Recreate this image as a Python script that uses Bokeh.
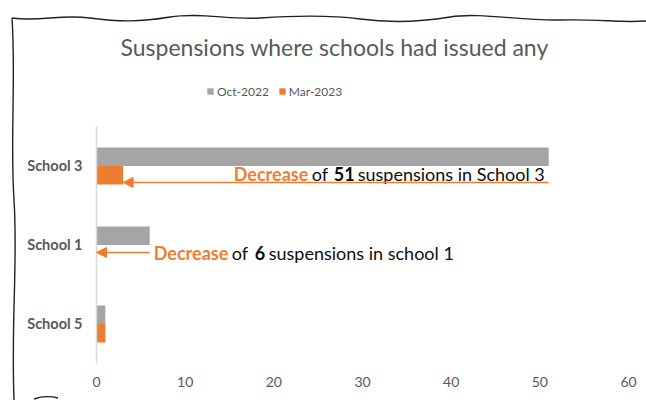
from urllib.parse import quote
from bokeh.plotting import figure
from bokeh.models import (Range1d, FixedTicker, Legend, LegendItem, Arrow,
                          NormalHead, ColumnDataSource)
from bokeh.transform import dodge
from bokeh.core.properties import value
from bokeh.embed import file_html
from bokeh.resources import INLINE

# ---------------- data ----------------
schools = ["School 3", "School 1", "School 5"]          # top to bottom
oct_2022 = [51, 6, 1]
mar_2023 = [3, 0, 1]
series_names = ["Oct-2022", "Mar-2023"]
x_ticks = [0, 10, 20, 30, 40, 50, 60]
title_text = "Suspensions where schools had issued any"

# annotations: school, text segments (text, colour-role, bold)
ann1_school = "School 3"
ann1_segments = [("Decrease", "accent", True), ("of", "dark", False),
                 ("51", "dark", True), ("suspensions in School 3", "dark", False)]
ann2_school = "School 1"
ann2_segments = [("Decrease", "accent", True), ("of", "dark", False),
                 ("6", "dark", True), ("suspensions in school 1", "dark", False)]

# ---------------- style ----------------
GRAY = "#A5A5A5"
ORANGE = "#ED7D31"
TXT = "#595959"
DARK = "#0D0D0D"
FONT = "Lato"
BAR_H = 0.234
HEADROOM = 0.772   # extra space above the categories, holds the legend

n = len(schools)
ypos = {s: n - i - 0.5 for i, s in enumerate(schools)}

p = figure(width=646, height=400, output_backend="svg", toolbar_location=None,
           x_range=Range1d(0, 60), y_range=Range1d(0, n + HEADROOM),
           min_border_left=96, min_border_right=18, min_border_top=65,
           min_border_bottom=37, title=title_text)
p.background_fill_color = "white"
p.border_fill_alpha = 0
p.outline_line_color = None
p.grid.visible = False

# decorative hand-drawn paper edge behind the transparent canvas border
edge_svg = (
    "<svg xmlns='http://www.w3.org/2000/svg' width='646' height='400'>"
    "<g fill='none' stroke='#222' stroke-width='1.4'>"
    "<path d='M12,18 C40,22 60,14 90,18 S140,22 170,17 S230,20 260,18 "
    "S330,15 360,19 S420,22 450,17 S520,21 560,20 S620,23 646,21'/>"
    "<path d='M12,18 C16,80 10,140 14,200 S11,320 14,400'/>"
    "<path d='M34,399 C42,396 50,396 58,398'/>"
    "</g></svg>"
)
p.styles = {
    "background-image": 'url("data:image/svg+xml,' + quote(edge_svg) + '")',
    "background-size": "646px 400px",
    "background-position": "0px 0px",
    "background-repeat": "no-repeat",
    "background-color": "white",
}

p.title.align = "left"
p.title.offset = 24
p.title.text_font = FONT
p.title.text_font_size = "23px"
p.title.text_font_style = "normal"
p.title.text_color = TXT

src = ColumnDataSource(dict(
    y=[ypos[s] for s in schools],
    oct=oct_2022, mar=mar_2023,
))
r_oct = p.hbar(y=dodge("y", BAR_H / 2), right="oct", left=0, height=BAR_H,
               source=src, fill_color=GRAY, line_color=None)
r_mar = p.hbar(y=dodge("y", -BAR_H / 2), right="mar", left=0, height=BAR_H,
               source=src, fill_color=ORANGE, line_color=None)

# axes
p.xaxis.ticker = FixedTicker(ticks=x_ticks)
p.xaxis.axis_line_color = None
p.xaxis.major_tick_line_color = None
p.xaxis.minor_tick_line_color = None
p.xaxis.major_label_text_font = FONT
p.xaxis.major_label_text_font_size = "14px"
p.xaxis.major_label_text_color = TXT
p.xaxis.major_label_standoff = 7

p.yaxis.ticker = FixedTicker(ticks=[ypos[s] for s in schools])
p.yaxis.major_label_overrides = {ypos[s]: s for s in schools}
p.yaxis.bounds = (0, n)
p.yaxis.axis_line_color = "#D9D9D9"
p.yaxis.axis_line_width = 1.5
p.yaxis.major_tick_line_color = None
p.yaxis.minor_tick_line_color = None
p.yaxis.major_label_text_font = FONT
p.yaxis.major_label_text_font_size = "14.5px"
p.yaxis.major_label_text_font_style = "bold"
p.yaxis.major_label_text_color = TXT
p.yaxis.major_label_standoff = 8

# legend (inside the frame's headroom, above the bars)
legend = Legend(items=[LegendItem(label=series_names[0], renderers=[r_oct]),
                       LegendItem(label=series_names[1], renderers=[r_mar])],
                orientation="horizontal", location=(110, 264),
                border_line_alpha=0, background_fill_alpha=0,
                label_text_font=FONT, label_text_font_size="12px",
                label_text_color=TXT, glyph_width=8, glyph_height=8,
                label_standoff=3, spacing=9, padding=0, margin=0,
                label_height=16)
p.add_layout(legend, "center")

# annotation arrows + texts
def annotate(school, segments, dy, offsets, text_dy):
    i = schools.index(school)
    y0 = ypos[school] + dy
    p.add_layout(Arrow(end=NormalHead(size=10, fill_color=ORANGE, line_color=ORANGE),
                       x_start=oct_2022[i], y_start=y0,
                       x_end=mar_2023[i], y_end=y0,
                       line_color=ORANGE, line_width=1.6))
    for (txt, role, bold), off in zip(segments, offsets):
        p.text(x=[oct_2022[i]], y=[y0], text=[txt], x_offset=off, y_offset=text_dy,
               text_font=value(FONT), text_font_size="18px",
               text_font_style="bold" if bold else "normal",
               text_color=ORANGE if role == "accent" else DARK,
               text_align="left", text_baseline="middle")

annotate(ann1_school, ann1_segments, -0.209, [-315, -237, -215, -191], -9)
annotate(ann2_school, ann2_segments, -0.095, [4, 82, 105, 119], 0)

open("out.html", "w").write(file_html(p, INLINE))
